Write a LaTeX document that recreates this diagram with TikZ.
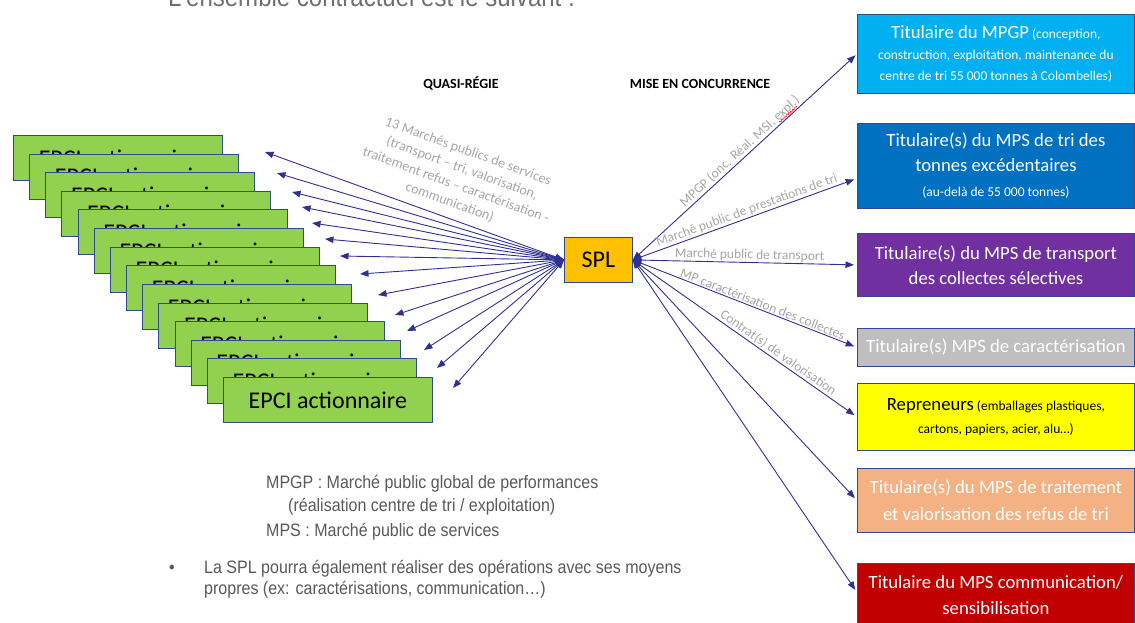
\documentclass[tikz,border=0pt]{standalone}
\usepackage{fontspec}
\setmainfont{Carlito}
\newfontfamily\arialf[FakeStretch=0.89]{Liberation Sans}
\usetikzlibrary{arrows.meta,calc,decorations.pathmorphing}
\definecolor{bordercol}{HTML}{2F4B8F}
\definecolor{arrowcol}{HTML}{2E3192}
\definecolor{epcigreen}{HTML}{92D050}
\definecolor{splcol}{HTML}{FFC000}
\definecolor{labgray}{HTML}{A6A6A6}
\definecolor{txtgray}{HTML}{595959}
\definecolor{titlegray}{HTML}{6F6F6F}
\definecolor{rone}{HTML}{00B0F0}
\definecolor{rtwo}{HTML}{0070C0}
\definecolor{rthree}{HTML}{7030A0}
\definecolor{rfour}{HTML}{BFBFBF}
\definecolor{rfive}{HTML}{FFFF00}
\definecolor{rsix}{HTML}{F4B183}
\definecolor{rseven}{HTML}{C00000}
\begin{document}
\begin{tikzpicture}[x=1pt,y=-1pt,
  epci/.style={draw=bordercol, fill=epcigreen, line width=0.8pt, minimum width=209pt, minimum height=45pt, anchor=north west, inner sep=0pt, font=\fontsize{24}{28}\selectfont},
  rbox/.style={draw=bordercol, line width=0.8pt, minimum width=277pt, anchor=north west, align=center, inner sep=2pt, text=white},
  conn/.style={draw=arrowcol, line width=0.9pt, arrows={Triangle[length=8.5pt,width=6.5pt]-Triangle[length=8.5pt,width=6.5pt]}},
  lab/.style={text=labgray, font=\fontsize{13.5}{16}\selectfont, inner sep=1pt, sloped, above},
  btext/.style={anchor=base west, inner sep=0pt, text=txtgray, font=\arialf\fontsize{18}{21}\selectfont}
]
\useasboundingbox (0,0) rectangle (1135,622);

% title
\node[anchor=base west, inner sep=0pt, text=titlegray, font=\arialf\fontsize{27}{30}\selectfont] (title) at (168,6) {L'ensemble contractuel est le suivant :};

% headers
\node[anchor=base, inner sep=0pt, font=\bfseries\fontsize{14}{16}\selectfont] (qr) at (461,88) {QUASI-RÉGIE};
\node[anchor=base, inner sep=0pt, font=\bfseries\fontsize{14}{16}\selectfont] (mc) at (700,88) {MISE EN CONCURRENCE};

% EPCI boxes
\foreach \i in {0,...,13}
  \node[epci] (e\i) at ({13+\i*16.15},{135+\i*18.62}) {EPCI actionnaire};

% SPL
\node[draw=bordercol, line width=0.8pt, fill=splcol, minimum width=68pt, minimum height=45pt, anchor=north west, inner sep=0pt, font=\fontsize{24}{28}\selectfont] (spl) at (564,237) {SPL};

% left arrow tips
\coordinate (t0) at (265,152);
\coordinate (t1) at (277,173);
\coordinate (t2) at (292,192);
\coordinate (t3) at (302,207);
\coordinate (t4) at (312,223);
\coordinate (t5) at (325,239);
\coordinate (t6) at (340,256);
\coordinate (t7) at (360,274);
\coordinate (t8) at (378,295);
\coordinate (t9) at (395,315);
\coordinate (t10) at (407,331);
\coordinate (t11) at (424,350);
\coordinate (t12) at (437,368);
\coordinate (t13) at (453,388);
\foreach \i in {0,...,13}
  \draw[conn] (spl.west) -- (t\i);

% left label
\node[text=labgray, rotate=-20, align=center, font=\fontsize{14}{18}\selectfont, inner sep=0pt] (ql) at (459,177)
  {13 Marchés publics de services\\(transport – tri, valorisation,\\traitement refus – caractérisation -\\communication)};

% right boxes
\node[rbox, fill=rone, minimum height=79pt, font=\fontsize{13.5}{21}\selectfont] (r1) at (857,14)
  {{\fontsize{18.7}{22}\selectfont Titulaire du MPGP} (conception,\\construction, exploitation, maintenance du\\centre de tri 55 000 tonnes à Colombelles)};
\node[rbox, fill=rtwo, minimum height=85pt, font=\fontsize{18.7}{25}\selectfont] (r2) at (857,123)
  {Titulaire(s) du MPS de tri des\\tonnes excédentaires\\{\fontsize{13.5}{16}\selectfont (au-delà de 55 000 tonnes)}};
\node[rbox, fill=rthree, minimum height=63pt, font=\fontsize{18.7}{25}\selectfont] (r3) at (857,233)
  {Titulaire(s) du MPS de transport\\des collectes sélectives};
\node[rbox, fill=rfour, minimum height=38pt, font=\fontsize{18.7}{22}\selectfont] (r4) at (857,328)
  {Titulaire(s) MPS de caractérisation};
\node[rbox, fill=rfive, text=black, minimum height=67pt, font=\fontsize{13.5}{23}\selectfont] (r5) at (857,383)
  {{\fontsize{18.7}{22}\selectfont Repreneurs} (emballages plastiques,\\cartons, papiers, acier, alu…)};
\node[rbox, fill=rsix, minimum height=64pt, font=\fontsize{18.7}{27}\selectfont] (r6) at (857,468)
  {Titulaire(s) du MPS de traitement\\et valorisation des refus de tri};
\node[rbox, fill=rseven, minimum height=64pt, font=\fontsize{18.7}{26}\selectfont] (r7) at (857,563)
  {Titulaire du MPS communication/\\sensibilisation};

% right arrows
\draw[conn, shorten >=2pt] (spl.east) -- (r1.west) node[lab, pos=0.5] (l1) {MPGP (onc. Réal. MSI, expl.)};
\draw[conn, shorten >=3pt] (spl.east) -- ([yshift=-12.5pt]r2.west) node[lab, pos=0.52] (l2) {Marché public de prestations de tri};
\draw[conn, shorten >=3pt] (spl.east) -- (r3.west) node[lab, pos=0.52] (l3) {Marché public de transport};
\draw[conn, shorten >=3pt] (spl.east) -- (r4.west) node[lab, pos=0.57] (l4) {MP caractérisation des collectes};
\draw[conn, shorten >=3pt] (spl.east) -- (r5.west) node[lab, pos=0.63] (l5) {Contrat(s) de valorisation};
\draw[conn, shorten >=3pt] (spl.east) -- (r6.west);
\draw[conn, shorten >=3pt] (spl.east) -- ([yshift=3pt]r7.west);

% red spell-check wave under "expl."
\coordinate (w0) at ($(l1.base west)!0.4!(l1.south west)$);
\coordinate (w1) at ($(l1.base east)!0.4!(l1.south east)$);
\draw[red, line width=0.5pt, decorate, decoration={snake, amplitude=0.8pt, segment length=2.5pt}]
  ($(w0)!0.805!(w1)$) -- ($(w0)!0.955!(w1)$);

% bottom texts
\node[btext] (m1) at (266,488) {MPGP : Marché public global de performances};
\node[btext] (m2) at (288,511) {(réalisation centre de tri / exploitation)};
\node[btext] (m3) at (266,536) {MPS : Marché public de services};
\node[btext] (bul) at (169,573) {•};
\node[btext] (b1) at (204,573) {La SPL pourra également réaliser des opérations avec ses moyens};
\node[btext] (b2) at (204,594) {propres (ex: caractérisations, communication…)};
\end{tikzpicture}
\end{document}
